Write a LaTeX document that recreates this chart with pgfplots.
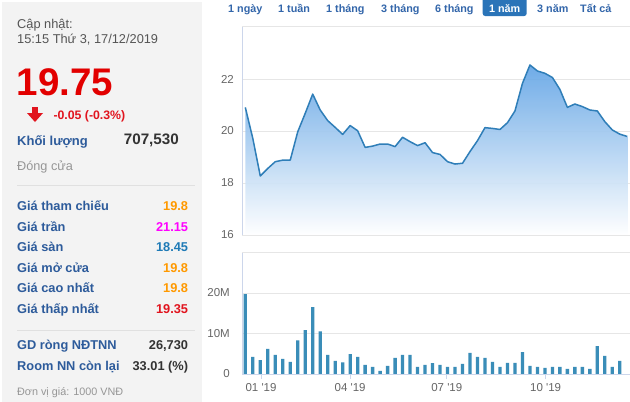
\documentclass[border=0pt]{standalone}
\usepackage{fontspec}
\setmainfont{Liberation Sans}
\usepackage{pgfplots}
\pgfplotsset{compat=1.18}
\usepackage{pgfplotstable}

\definecolor{panelgray}{RGB}{243,243,243}
\definecolor{sepgray}{RGB}{224,224,224}
\definecolor{lblue}{RGB}{45,91,155}
\definecolor{btnblue}{RGB}{51,102,170}
\definecolor{btnfill}{RGB}{42,116,184}
\definecolor{txtgray}{RGB}{85,85,85}
\definecolor{ltgray}{RGB}{150,150,150}
\definecolor{bigred}{RGB}{226,0,0}
\definecolor{vorange}{RGB}{255,153,0}
\definecolor{vmagenta}{RGB}{255,0,255}
\definecolor{vblue}{RGB}{30,122,182}
\definecolor{vred}{RGB}{225,20,30}
\definecolor{vdark}{RGB}{51,51,51}
\definecolor{linecol}{RGB}{47,126,184}
\definecolor{barcol}{RGB}{58,141,184}
\definecolor{fillcol}{RGB}{96,163,229}
\definecolor{gridcol}{RGB}{230,230,230}
\definecolor{axcol}{RGB}{204,214,235}
\definecolor{tickgray}{RGB}{102,102,102}

\pgfplotstableread{
x y
1 20.91
2 19.72
3 18.27
4 18.56
5 18.82
6 18.88
7 18.88
8 19.97
9 20.68
10 21.42
11 20.81
12 20.40
13 20.14
14 19.87
15 20.21
16 20.01
17 19.37
18 19.42
19 19.50
20 19.50
21 19.40
22 19.76
23 19.59
24 19.44
25 19.55
26 19.17
27 19.10
28 18.82
29 18.73
30 18.76
31 19.21
32 19.63
33 20.13
34 20.10
35 20.06
36 20.32
37 20.77
38 21.83
39 22.54
40 22.31
41 22.22
42 22.06
43 21.60
44 20.91
45 21.04
46 20.94
47 20.81
48 20.77
49 20.36
50 20.04
51 19.88
52 19.79
}\price

\pgfplotstableread{
x v
1 19.7
2 4.25
3 3.4
4 6.2
5 4.7
6 3.75
7 3.0
8 8.3
9 10.8
10 16.5
11 10.5
12 4.7
13 3.25
14 2.9
15 4.9
16 4.25
17 2.25
18 1.75
19 0.8
20 2.0
21 4.0
22 4.7
23 4.7
24 1.75
25 2.25
26 2.7
27 2.25
28 1.75
29 1.75
30 2.5
31 5.2
32 4.25
33 4.0
34 3.0
35 1.75
36 2.75
37 2.75
38 5.4
39 2.0
40 1.75
41 1.5
42 1.75
43 1.75
44 1.25
45 1.75
46 1.75
47 1.25
48 6.9
49 4.5
50 1.75
51 3.25
}\volume

\newcommand{\fs}[1]{\fontsize{#1}{#1}\selectfont}

\begin{document}
\begin{tikzpicture}
\useasboundingbox (0,0) rectangle (630pt,-402pt);
\fill[white] (0,0) rectangle (630pt,-402pt);

\begin{scope}[x=1pt,y=-1pt]
% left panel
\fill[panelgray] (2,2) rectangle (202,402);
\node[anchor=base west,inner sep=0pt,text=txtgray] at (17,28.5) {\fs{12.8}Cập nhật:};
\node[anchor=base west,inner sep=0pt,text=txtgray] at (17,43) {\fs{12.8}15:15 Thứ 3, 17/12/2019};
\node[anchor=base west,inner sep=0pt,text=bigred] at (16.5,95) {\fs{38.5}\bfseries 19.75};
\fill[vred] (32.2,107) rectangle (37.8,113.5);
\fill[vred] (27,113)--(43,113)--(35,122)--cycle;
\node[anchor=base west,inner sep=0pt,text=vred] at (53.3,119.5) {\fs{12.3}\bfseries -0.05 (-0.3\%)};
\node[anchor=base west,inner sep=0pt,text=lblue] at (17,145.5) {\fs{13}\bfseries Khối lượng};
\node[anchor=base east,inner sep=0pt,text=vdark] at (179,144) {\fs{15.2}\bfseries 707,530};
\node[anchor=base west,inner sep=0pt,text=ltgray] at (17,170.5) {\fs{12.7}Đóng cửa};
\draw[sepgray,line width=0.8pt] (17,185) -- (195,185);

\node[anchor=base west,inner sep=0pt,text=lblue] at (17,210.7) {\fs{12.8}\bfseries Giá tham chiếu};
\node[anchor=base east,inner sep=0pt,text=vorange] at (188.3,210.7) {\fs{12.8}\bfseries 19.8};
\node[anchor=base west,inner sep=0pt,text=lblue] at (17,231.2) {\fs{12.8}\bfseries Giá trần};
\node[anchor=base east,inner sep=0pt,text=vmagenta] at (188.3,231.2) {\fs{12.8}\bfseries 21.15};
\node[anchor=base west,inner sep=0pt,text=lblue] at (17,251.7) {\fs{12.8}\bfseries Giá sàn};
\node[anchor=base east,inner sep=0pt,text=vblue] at (188.3,251.7) {\fs{12.8}\bfseries 18.45};
\node[anchor=base west,inner sep=0pt,text=lblue] at (17,272.3) {\fs{12.8}\bfseries Giá mở cửa};
\node[anchor=base east,inner sep=0pt,text=vorange] at (188.3,272.3) {\fs{12.8}\bfseries 19.8};
\node[anchor=base west,inner sep=0pt,text=lblue] at (17,292.8) {\fs{12.8}\bfseries Giá cao nhất};
\node[anchor=base east,inner sep=0pt,text=vorange] at (188.3,292.8) {\fs{12.8}\bfseries 19.8};
\node[anchor=base west,inner sep=0pt,text=lblue] at (17,313.3) {\fs{12.8}\bfseries Giá thấp nhất};
\node[anchor=base east,inner sep=0pt,text=vred] at (188.3,313.3) {\fs{12.8}\bfseries 19.35};
\draw[sepgray,line width=0.8pt] (17,330) -- (195,330);
\node[anchor=base west,inner sep=0pt,text=lblue] at (17,349.3) {\fs{12.8}\bfseries GD ròng NĐTNN};
\node[anchor=base east,inner sep=0pt,text=vdark] at (188.3,349.3) {\fs{12.8}\bfseries 26,730};
\node[anchor=base west,inner sep=0pt,text=lblue] at (17,370) {\fs{12.8}\bfseries Room NN còn lại};
\node[anchor=base east,inner sep=0pt,text=vdark] at (188.3,370) {\fs{12.8}\bfseries 33.01 (\%)};
\node[anchor=base west,inner sep=0pt,text=ltgray] at (17,395) {\fs{10.8}Đơn vị giá: 1000 VNĐ};

% range buttons
\fill[btnfill,rounded corners=2.5pt] (482.7,-3) rectangle (526.7,16);
\node[anchor=base west,inner sep=0pt,text=btnblue] at (228,12) {\fs{10.8}\bfseries 1 ngày};
\node[anchor=base west,inner sep=0pt,text=btnblue] at (278,12) {\fs{10.8}\bfseries 1 tuần};
\node[anchor=base west,inner sep=0pt,text=btnblue] at (326,12) {\fs{10.8}\bfseries 1 tháng};
\node[anchor=base west,inner sep=0pt,text=btnblue] at (381,12) {\fs{10.8}\bfseries 3 tháng};
\node[anchor=base west,inner sep=0pt,text=btnblue] at (435,12) {\fs{10.8}\bfseries 6 tháng};
\node[anchor=base,inner sep=0pt,text=white] at (504.7,12) {\fs{10.8}\bfseries 1 năm};
\node[anchor=base west,inner sep=0pt,text=btnblue] at (537,12) {\fs{10.8}\bfseries 3 năm};
\node[anchor=base west,inner sep=0pt,text=btnblue] at (580,12) {\fs{10.8}\bfseries Tất cả};
\end{scope}

% price axis
\begin{axis}[
  at={(242pt,-235pt)}, anchor=south west,
  scale only axis, width=388pt, height=209pt,
  xmin=0.56, xmax=52.36, ymin=16, ymax=24.04,
  axis line style={draw=none},
  xtick=\empty,
  ytick={16,18,20,22},
  ymajorgrids, major grid style={draw=gridcol,line width=0.8pt},
  ytick style={draw=none},
  /pgf/number format/assume math mode=true,
  yticklabel style={font=\fs{11.5}, text=tickgray, anchor=east, inner sep=0pt, xshift=-8pt},
]
\addplot[draw=none, top color=fillcol, bottom color=white, fill opacity=0.9] coordinates {
(1,16) (1,20.91) (2,19.72) (3,18.27) (4,18.56) (5,18.82) (6,18.88) (7,18.88) (8,19.97) (9,20.68) (10,21.42)
(11,20.81) (12,20.40) (13,20.14) (14,19.87) (15,20.21) (16,20.01) (17,19.37) (18,19.42) (19,19.50) (20,19.50)
(21,19.40) (22,19.76) (23,19.59) (24,19.44) (25,19.55) (26,19.17) (27,19.10) (28,18.82) (29,18.73) (30,18.76)
(31,19.21) (32,19.63) (33,20.13) (34,20.10) (35,20.06) (36,20.32) (37,20.77) (38,21.83) (39,22.54) (40,22.31)
(41,22.22) (42,22.06) (43,21.60) (44,20.91) (45,21.04) (46,20.94) (47,20.81) (48,20.77) (49,20.36) (50,20.04)
(51,19.88) (52,19.79) (52,16)};
\addplot[color=linecol, line width=1.5pt, line join=round, mark=none] table[x=x,y=y] {\price};
\draw[axcol,line width=0.8pt] (rel axis cs:0,0) -- (rel axis cs:0,1);
\draw[gridcol,line width=0.8pt] (rel axis cs:0,1) -- (rel axis cs:1,1);
\draw[gridcol,line width=0.8pt] (rel axis cs:0,0) -- (rel axis cs:1,0);
\end{axis}

% volume axis
\begin{axis}[
  at={(242pt,-374pt)}, anchor=south west,
  scale only axis, width=388pt, height=122pt,
  xmin=0.56, xmax=52.36, ymin=0, ymax=30.1,
  axis line style={draw=none},
  xtick={3.1,15,27.9,41.1},
  xticklabels={01 \textquotesingle19, 04 \textquotesingle19, 07 \textquotesingle19, 10 \textquotesingle19},
  xtick pos=bottom,
  tick align=outside, major tick length=5pt,
  xtick style={draw=axcol, line width=0.8pt},
  ytick={0,10,20}, yticklabels={0,10M,20M},
  ytick style={draw=none},
  ymajorgrids, major grid style={draw=gridcol,line width=0.8pt},
  /pgf/number format/assume math mode=true,
  yticklabel style={font=\fs{11.5}, text=tickgray, anchor=east, inner sep=0pt, xshift=-7pt},
  xticklabel style={font=\fs{11.5}, text=tickgray, anchor=north, inner sep=0pt, yshift=-4pt},
]
\addplot[ybar, bar width=3.3pt, fill=barcol, draw=none] table[x=x,y=v] {\volume};
\draw[axcol,line width=0.8pt] (rel axis cs:0,0) -- (rel axis cs:0,1);
\draw[gridcol,line width=0.8pt] (rel axis cs:0,1) -- (rel axis cs:1,1);
\draw[axcol,line width=0.8pt] (rel axis cs:0,0) -- (rel axis cs:1,0);
\end{axis}
\end{tikzpicture}
\end{document}
